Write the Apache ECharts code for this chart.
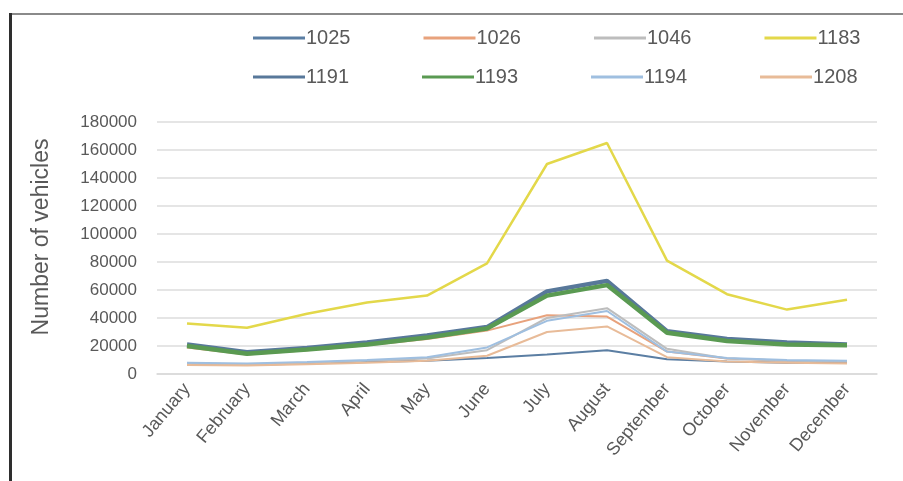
<!DOCTYPE html>
<html>
<head>
<meta charset="utf-8">
<script src="https://cdn.jsdelivr.net/npm/echarts@6/dist/echarts.min.js"></script>
<style>
  html, body { margin: 0; padding: 0; background: #fff; }
  #chart { width: 903px; height: 481px; }
</style>
</head>
<body>
<div id="chart"></div>
<script>
// Monthly vehicle counts per station
const months = ['January', 'February', 'March', 'April', 'May', 'June', 'July', 'August', 'September', 'October', 'November', 'December'];
const yTicks = { min: 0, max: 180000, step: 20000 };

const s1025 = [7000, 6500, 7500, 8500, 9500, 11500, 14000, 17000, 10500, 9000, 8000, 8000];
const s1026 = [19000, 14000, 17000, 20500, 25000, 31000, 42000, 41000, 16000, 11000, 9500, 9000];
const s1046 = [7500, 7000, 8000, 9500, 11000, 17000, 40000, 47000, 18000, 11000, 9500, 9000];
const s1183 = [36000, 33000, 43000, 51000, 56000, 79000, 150000, 165000, 81000, 57000, 46000, 53000];
const s1191 = [21000, 15500, 18500, 22500, 27500, 33500, 59000, 66500, 30500, 25000, 22500, 21000];
const s1193 = [20000, 14500, 17500, 21000, 26000, 32500, 56000, 63500, 29500, 23500, 21000, 20500];
const s1194 = [8000, 7500, 8500, 10000, 12000, 19000, 38000, 45000, 16000, 11500, 10000, 9500];
const s1208 = [6500, 6000, 7000, 8000, 9500, 13000, 30000, 34000, 12000, 9000, 8000, 7500];

const stations = [
  { name: '1025', data: s1025, color: '#5b7ea3', width: 2 },
  { name: '1026', data: s1026, color: '#e8a27c', width: 2 },
  { name: '1046', data: s1046, color: '#bdbdbd', width: 2 },
  { name: '1183', data: s1183, color: '#e3d84a', width: 2.5 },
  { name: '1191', data: s1191, color: '#58789a', width: 4.5 },
  { name: '1193', data: s1193, color: '#5a9a52', width: 4.5 },
  { name: '1194', data: s1194, color: '#9fbfe0', width: 2 },
  { name: '1208', data: s1208, color: '#e8bb98', width: 2 }
];

const textColor = '#595959';
const font = 'Liberation Sans';
const narrowFont = "'Liberation Sans Narrow', 'Liberation Sans', sans-serif";

const legendBase = {
  left: 253,
  orient: 'horizontal',
  icon: 'rect',
  itemWidth: 52,
  itemHeight: 3,
  itemGap: 73,
  padding: 0,
  textStyle: { fontSize: 20, color: textColor, fontFamily: font, padding: [0, 0, 0, -4] }
};

const chart = echarts.init(document.getElementById('chart'), null, { renderer: 'canvas' });
chart.setOption({
  backgroundColor: '#ffffff',
  animation: false,
  legend: [
    Object.assign({}, legendBase, { top: 28, data: ['1025', '1026', '1046', '1183'] }),
    Object.assign({}, legendBase, { top: 67, data: ['1191', '1193', '1194', '1208'] })
  ],
  grid: { left: 157, right: 26, top: 122, bottom: 107 },
  xAxis: {
    type: 'category',
    data: months,
    boundaryGap: true,
    axisLine: { show: true, lineStyle: { color: '#d9d9d9', width: 1.5 } },
    axisTick: { show: false },
    axisLabel: {
      rotate: 50,
      interval: 0,
      margin: 12,
      fontSize: 18,
      color: textColor,
      fontFamily: narrowFont
    }
  },
  yAxis: {
    type: 'value',
    min: yTicks.min,
    max: yTicks.max,
    interval: yTicks.step,
    axisLine: { show: false },
    axisTick: { show: false },
    axisLabel: { fontSize: 17, color: textColor, fontFamily: font, margin: 20, formatter: v => String(v) },
    splitLine: { lineStyle: { color: '#dcdcdc', width: 1.5 } }
  },
  series: stations.map(s => ({
    name: s.name,
    type: 'line',
    data: s.data,
    symbol: 'none',
    smooth: false,
    color: s.color,
    lineStyle: { color: s.color, width: s.width }
  })),
  graphic: [
    { type: 'rect', shape: { x: 9, y: 13, width: 894, height: 2 }, style: { fill: '#8a8a8a' }, silent: true },
    { type: 'rect', shape: { x: 9, y: 13, width: 3, height: 468 }, style: { fill: '#2e2e2e' }, silent: true },
    {
      type: 'text',
      x: 42, y: 237,
      rotation: Math.PI / 2,
      style: {
        text: 'Number of vehicles',
        font: '23px "Liberation Sans"',
        fill: textColor,
        align: 'center',
        verticalAlign: 'middle'
      },
      silent: true
    }
  ]
});
</script>
</body>
</html>
